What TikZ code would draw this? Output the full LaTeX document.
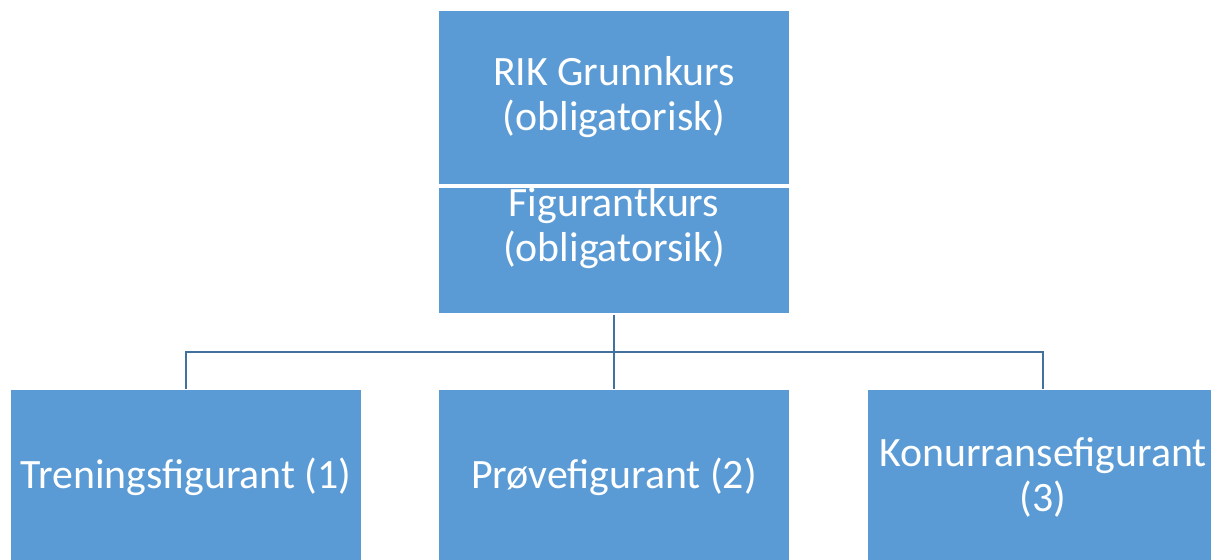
\documentclass[tikz,border=0pt]{standalone}
\usepackage{fontspec}
\setmainfont{Carlito}
\definecolor{boxblue}{HTML}{5B9BD5}
\definecolor{lineblue}{HTML}{41719C}
\tikzset{
	kurs/.style={rectangle, fill=boxblue, draw=white, line width=0.6pt, text=white, inner sep=0pt,
		minimum width=7.04cm, align=center, font=\fontsize{23.8}{25.6}\selectfont},
	link/.style={draw=lineblue, line width=1.1pt}
}
\begin{document}
\begin{tikzpicture}[x=0.02cm,y=-0.02cm]
			\useasboundingbox (0,0) rectangle (1211,560);
			% Obligatory courses
			\node [kurs, minimum height=3.5cm] (rik) at (614,97.5) {RIK Grunnkurs\\(obligatorisk)};
			\node [kurs, minimum height=2.54cm] (figurant) at (614,250.5) {\parbox[c][2.54cm][t]{7cm}{\centering Figurantkurs\\(obligatorsik)}};
			
			% Levels
			\node [kurs, minimum height=3.5cm] (trening) at (186,477) {Treningsfigurant (1)};
			\node [kurs, minimum height=3.5cm] (prove) at (614,477) {Prøvefigurant (2)};
			\node [kurs, minimum height=3.5cm] (konkurranse) at (1043,477) {Konurransefigurant\\(3)};
			
			% Connectors
			\coordinate (bus) at (614,352);
			\draw [link] (figurant.south) -- (bus);
			\draw [link] (bus) -| (trening.north);
			\draw [link] (bus) -- (prove.north);
			\draw [link] (bus) -| (konkurranse.north);
			\end{tikzpicture}
\end{document}
